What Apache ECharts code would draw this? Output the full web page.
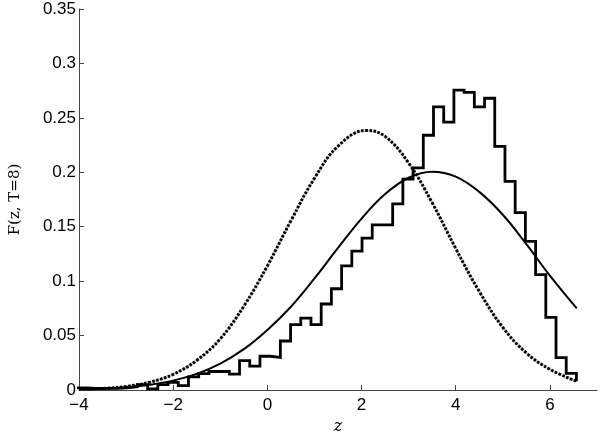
<!DOCTYPE html>
<html>
<head>
<meta charset="utf-8">
<script src="https://cdn.jsdelivr.net/npm/echarts@6/dist/echarts.min.js"></script>
<style>html,body{margin:0;padding:0;background:#fff;}#c{width:600px;height:440px;}</style>
</head>
<body>
<div id="c"></div>
<script>
// Histogram: bin left edges start + width, heights per bin (last entry = closing value at final edge)
var binStart = -4.06;
var binWidth = 0.2168;
var histHeights = [
  0.002, 0.0015, 0.0015, 0.0015, 0.002, 0.003, 0.005, 0.001, 0.005, 0.007,
  0.004, 0.012, 0.015, 0.017, 0.017, 0.0145, 0.027, 0.022, 0.031, 0.030,
  0.045, 0.060, 0.066, 0.060, 0.079, 0.093, 0.114, 0.1275, 0.1395, 0.1516,
  0.1516, 0.171, 0.1937, 0.204, 0.234, 0.260, 0.246, 0.2755, 0.2735, 0.260,
  0.268, 0.2238, 0.1916, 0.163, 0.1366, 0.1059, 0.0668, 0.0298, 0.0153, 0.008
];
// Solid curve sampled along z
var solidZ = [-4, -3.5, -3, -2.5, -2, -1.5, -1, -0.5, 0, 0.5, 1, 1.5, 2, 2.5, 3, 3.5, 4, 4.5, 5, 5.5, 6, 6.57];
var solidF = [0.0006, 0.0012, 0.0025, 0.0048, 0.0086, 0.0148, 0.0242, 0.0375, 0.0552, 0.0765, 0.1025, 0.1305, 0.1575, 0.1800, 0.1950, 0.2005, 0.1960, 0.1820, 0.1610, 0.1340, 0.1050, 0.0749];
// Dotted curve sampled along z
var dottedZ = [-4, -3.5, -3, -2.5, -2, -1.5, -1, -0.5, 0, 0.5, 1, 1.5, 2.1, 2.5, 3, 3.5, 4, 4.5, 5, 5.5, 6, 6.57];
var dottedF = [0.0006, 0.0014, 0.0033, 0.0071, 0.0144, 0.0272, 0.0470, 0.0770, 0.1140, 0.1555, 0.1945, 0.2240, 0.2385, 0.2330, 0.2085, 0.1720, 0.1300, 0.0905, 0.0575, 0.0340, 0.0190, 0.0080];
var xTicks = [-4, -2, 0, 2, 4, 6];
var yTicks = [0, 0.05, 0.1, 0.15, 0.2, 0.25, 0.3, 0.35];

var histData = histHeights.map(function (h, k) { return [binStart + k * binWidth, h]; });
var solidData = solidZ.map(function (z, i) { return [z, solidF[i]]; });
var dottedData = dottedZ.map(function (z, i) { return [z, dottedF[i]]; });

var chart = echarts.init(document.getElementById('c'), null, {renderer: 'canvas'});
var labelFont = {color: '#000', fontFamily: 'Liberation Sans, Arial, sans-serif', fontSize: 17};
chart.setOption({
  animation: false,
  backgroundColor: '#fff',
  grid: {left: 67, right: 3, top: 9, bottom: 44},
  xAxis: {
    type: 'value', min: -4, max: 7,
    name: 'z', nameLocation: 'middle', nameGap: 29,
    nameTextStyle: {fontFamily: 'DejaVu Serif, serif', fontStyle: 'italic', fontSize: 16, color: '#000'},
    axisLine: {show: true, onZero: false, lineStyle: {color: '#444', width: 1}},
    axisTick: {show: true, inside: true, length: 5, customValues: xTicks, lineStyle: {color: '#444'}},
    axisLabel: Object.assign({margin: 7, customValues: xTicks, formatter: function (v) { return String(v).replace('-', '\u2212'); }}, labelFont),
    splitLine: {show: false}
  },
  yAxis: {
    type: 'value', min: 0, max: 0.35, interval: 0.05,
    name: 'F(z, T=8)', nameLocation: 'middle', nameGap: 56, nameRotate: 90,
    nameTextStyle: {fontFamily: 'DejaVu Serif, serif', fontSize: 15, color: '#000'},
    axisLine: {show: true, onZero: false, lineStyle: {color: '#444', width: 1}},
    axisTick: {show: true, inside: true, length: 5, lineStyle: {color: '#444'}},
    axisLabel: Object.assign({margin: 3, customValues: yTicks, formatter: function (v) { return String(+v.toFixed(2)); }}, labelFont),
    splitLine: {show: false}
  },
  series: [
    {type: 'line', data: dottedData, smooth: 0.4, symbol: 'none', silent: true,
     lineStyle: {color: '#c8c8c8', width: 2}, z: 1},
    {type: 'line', data: dottedData, smooth: 0.4, symbol: 'none', silent: true,
     lineStyle: {color: '#000', width: 3, type: [2.5, 1.6], cap: 'butt'}, z: 2},
    {type: 'line', data: solidData, smooth: 0.4, symbol: 'none', silent: true,
     lineStyle: {color: '#000', width: 2}, z: 3},
    {type: 'line', data: histData, step: 'end', symbol: 'none', silent: true,
     lineStyle: {color: '#000', width: 2.8, join: 'miter'}, z: 4}
  ]
});
</script>
</body>
</html>
